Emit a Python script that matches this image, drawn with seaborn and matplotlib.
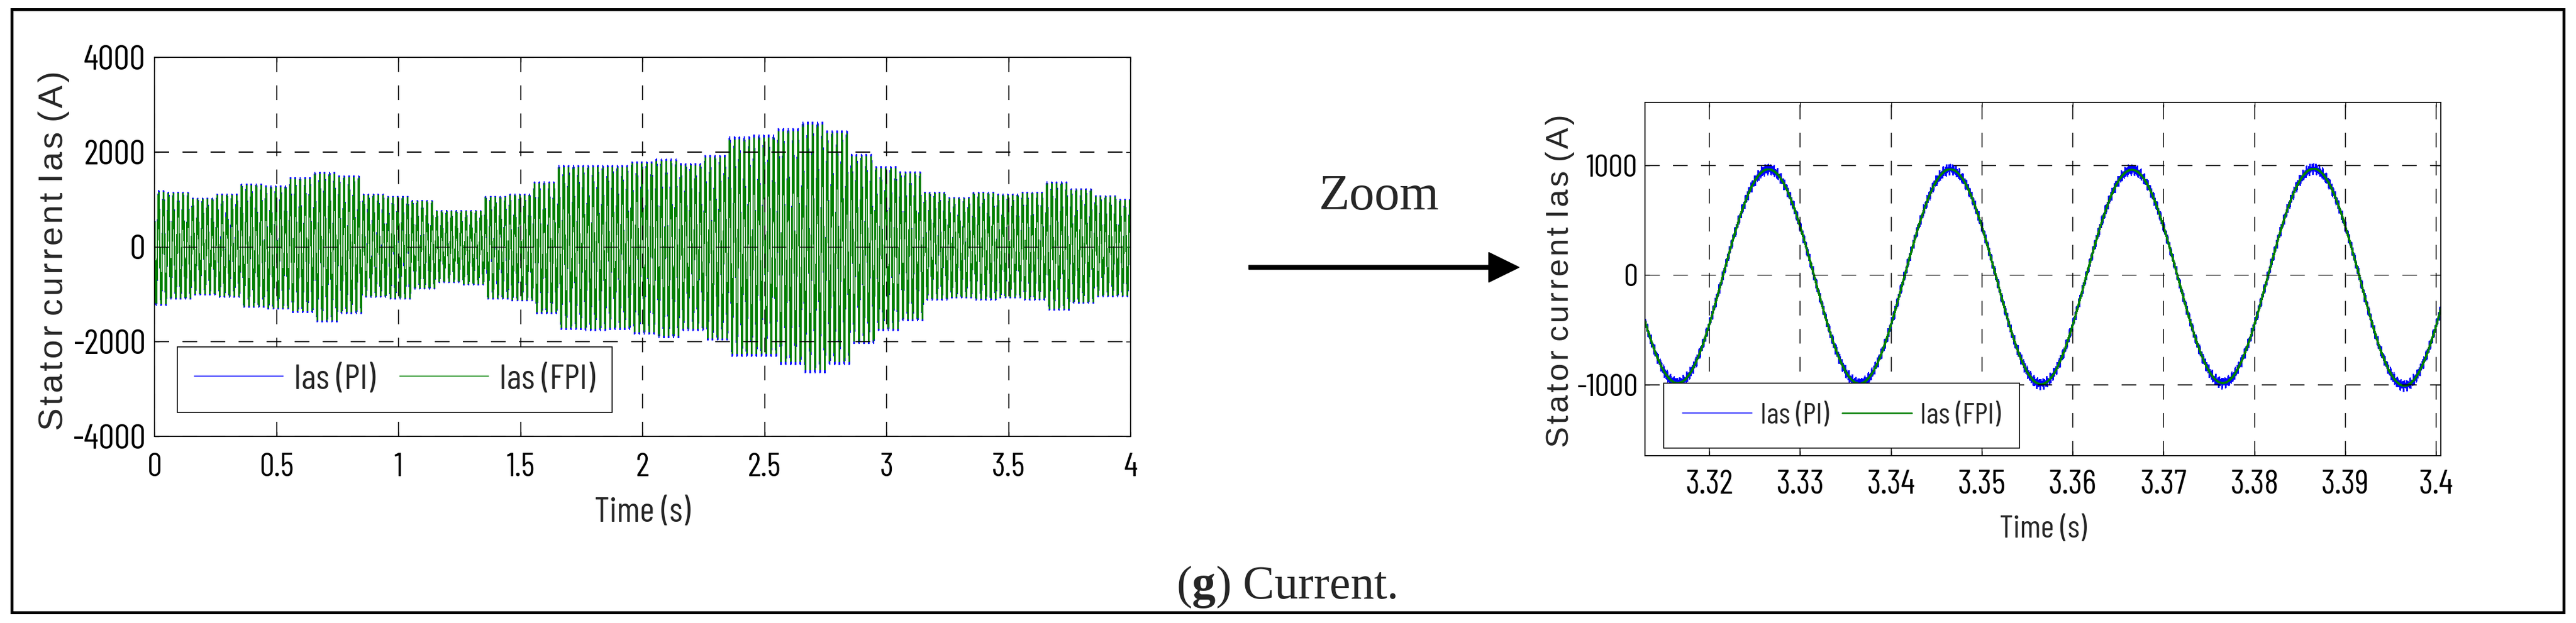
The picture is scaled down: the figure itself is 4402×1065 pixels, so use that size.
import os
import numpy as np
import matplotlib
matplotlib.use("Agg")
import matplotlib.pyplot as plt
from matplotlib import font_manager
from matplotlib.font_manager import FontProperties
from matplotlib.textpath import TextPath
from matplotlib.patches import Rectangle, FancyArrow
import seaborn as sns

# ---- overview record 0-4 s : current envelope read every 0.1 s ----
env_time = np.round(np.linspace(0.0, 4.0, 41), 1)
env_upper = [1150, 1120, 1000, 1080, 1290, 1250, 1420, 1530, 1460, 1080,
             1040, 950, 740, 740, 1040, 1080, 1330, 1670, 1670, 1670,
             1750, 1800, 1710, 1880, 2260, 2300, 2430, 2570, 2390, 1900,
             1650, 1545, 1120, 1010, 1120, 1080, 1120, 1330, 1190, 1050, 975]
env_lower = [1200, 1070, 990, 1030, 1240, 1280, 1350, 1540, 1370, 1030,
             1070, 860, 730, 780, 1070, 1110, 1370, 1700, 1720, 1700,
             1790, 1870, 1720, 1920, 2250, 2250, 2420, 2590, 2420, 1990,
             1720, 1520, 1090, 1050, 1090, 1050, 1090, 1300, 1160, 1020, 1020]
grid_freq = 50.0          # Hz
pi_overshoot = 1.025      # PI tips stick out above the FPI trace

# ---- zoomed window ----
zoom_t0, zoom_t1 = 3.3129, 3.4005
zoom_peak_time = 3.3265
zoom_first_zero = 3.3115
# amplitude of each half cycle (trough, peak, trough, ...)
zoom_half_amp = [985, 965, 990, 965, 995, 960, 985, 970, 1010]
ripple_amp = [32, 20]     # PI switching ripple
ripple_freq = [5100, 7900]

left_xticks = [0, 0.5, 1, 1.5, 2, 2.5, 3, 3.5, 4]
left_xticklabels = ["0", "0.5", "1", "1.5", "2", "2.5", "3", "3.5", "4"]
left_yticks = [-4000, -2000, 0, 2000, 4000]
right_xticks = [3.32, 3.33, 3.34, 3.35, 3.36, 3.37, 3.38, 3.39, 3.40]
right_xticklabels = ["3.32", "3.33", "3.34", "3.35", "3.36", "3.37", "3.38", "3.39", "3.4"]
right_yticks = [-1000, 0, 1000]
series = ["Ias (PI)", "Ias (FPI)"]
colors = ["#0000ff", "#008000"]

# ---- build the traces ----
t_all = np.arange(0.0, 4.0 + 1e-9, 0.0005)
k = np.rint(t_all / 0.1).astype(int)
carrier = np.cos(2 * np.pi * grid_freq * t_all + 0.9)
amp = np.where(carrier >= 0, np.take(env_upper, k), np.take(env_lower, k))
i_fpi = amp * carrier
i_pi = i_fpi * pi_overshoot

t_z = np.arange(zoom_t0, zoom_t1, 0.00002)
hk = np.clip(np.floor((t_z - zoom_first_zero) / 0.01).astype(int), 0, len(zoom_half_amp) - 1)
z_fpi = np.take(zoom_half_amp, hk) * np.cos(2 * np.pi * grid_freq * (t_z - zoom_peak_time))
z_pi = z_fpi.copy()
for a, f in zip(ripple_amp, ripple_freq):
    z_pi = z_pi + a * np.sin(2 * np.pi * f * t_z)

# ---- style ----
sns.set_theme(style="white")
plt.rcParams.update({
    "font.family": ["Liberation Sans", "DejaVu Sans"],
    "axes.unicode_minus": False,
    "lines.scale_dashes": False,
    "mathtext.fontset": "custom",
    "mathtext.rm": "Liberation Serif",
    "mathtext.bf": "Liberation Serif:bold",
    "axes.edgecolor": "black",
})


# MATLAB tick text is a narrow sans: take the available upright sans whose
# "4000" has the closest width/height ratio to the reference (~2.3)
def ink_box(fp):
    ext = TextPath((0, 0), "4000", prop=fp, size=10).get_extents()
    return ext.width, ext.height


skip = ("bold", "oblique", "italic", "light", "thin", "medium", "black",
        "heavy", "mono", "serif", "code", "math")
cands = [FontProperties(family="Liberation Sans")]
for fe in font_manager.fontManager.ttflist:
    b = os.path.basename(fe.fname).lower()
    if ("narrow" in b or "condensed" in b) and not any(w in b for w in skip):
        cands.append(FontProperties(fname=fe.fname))
best, best_err, best_box = cands[0], 99.0, ink_box(cands[0])
for c in cands:
    try:
        w_, h_ = ink_box(c)
    except Exception:
        continue
    err = abs(w_ / h_ - 2.3)
    if err < best_err:
        best, best_err, best_box = c, err, (w_, h_)
TICK_FP = best
RATIO = best_box[0] / best_box[1]
HPX_PER_PT = best_box[1] / 10 * 100 / 72     # digit height in px per pt
SHRINK = min(1.0, 2.3 / RATIO) ** 0.85


def npt(h_px):
    """point size that gives digits about h_px tall"""
    return h_px / HPX_PER_PT * SHRINK


def nfont(h_px):
    fp = TICK_FP.copy()
    fp.set_size(npt(h_px))
    return fp


def leg_kw(h_px, box_h, handle, textpad, colsp):
    fs = npt(h_px) / 0.72            # font size in px
    return dict(prop=nfont(h_px), borderaxespad=0,
                borderpad=max(0.2, (box_h - 1.2 * fs) / 2 / fs),
                handlelength=handle / fs, handletextpad=textpad / fs,
                columnspacing=colsp / fs, fancybox=False, edgecolor="black",
                framealpha=1, ncol=2, loc="lower left")


W, H = 4402, 1065
fig = plt.figure(figsize=(W / 100, H / 100), dpi=100)

# overlay in pixel coordinates for border, arrow and captions
ov = fig.add_axes([0, 0, 1, 1])
ov.set_xlim(0, W)
ov.set_ylim(H, 0)
ov.axis("off")
ov.add_patch(Rectangle((19.5, 15.5), 4361, 1031, fill=False, lw=3.6, edgecolor="black"))
ov.add_patch(FancyArrow(2134, 457, 462, 0, width=7, head_width=51, head_length=52,
                        length_includes_head=True, color="black"))
ov.text(2357, 358, "Zoom", ha="center", va="baseline", fontsize=62,
        family="Liberation Serif")
ov.text(2198, 1023, r"($\mathbf{g}$) Current.", ha="center", va="baseline",
        fontsize=58, family="Liberation Serif")

spaced = " ".join("\u200a".join(w) for w in "Stator current Ias (A)".split())
dash = (0, (18, 16.5))


def style_axes(ax, xt, xtl, yt, xh, yh, lw_spine, glw, gzero):
    ax.set_xticks(xt)
    ax.set_xticklabels(xtl, fontproperties=nfont(xh))
    ax.set_yticks(yt)
    ax.set_yticklabels([str(v) for v in yt], fontproperties=nfont(yh))
    for s in ax.spines.values():
        s.set_linewidth(lw_spine)
        s.set_color("black")
    for x in xt:
        ax.axvline(x, color="black", lw=glw, linestyle=dash, zorder=3)
    for y in yt:
        ax.axhline(y, color="black", lw=gzero if y == 0 else glw + 0.3,
                   linestyle=dash, zorder=3)
    ax.tick_params(direction="in", length=6, width=1, colors="black",
                   top=True, right=True, bottom=True, left=True)


# ---- left: whole record ----
ax1 = fig.add_axes([264 / W, 1 - 746 / H, 1668 / W, 648 / H])
sns.lineplot(x=t_all, y=i_pi, ax=ax1, color=colors[0], lw=1.1, label=series[0],
             estimator=None, sort=False, antialiased=False)
sns.lineplot(x=t_all, y=i_fpi, ax=ax1, color=colors[1], lw=1.1, label=series[1],
             estimator=None, sort=False, antialiased=False)
ax1.set_xlim(0, 4)
ax1.set_ylim(-4000, 4000)
style_axes(ax1, left_xticks, left_xticklabels, left_yticks, 41, 44, 1.3, 1.2, 0.9)
ax1.tick_params(axis="y", pad=11)
ax1.tick_params(axis="x", pad=20)
ax1.set_xlabel("Time (s)", fontproperties=nfont(44))
ax1.xaxis.set_label_coords(0.5, -0.16)
ax1.set_ylabel(spaced, fontsize=42, family=["Liberation Sans", "DejaVu Sans"])
ax1.yaxis.set_label_coords(-0.087, 0.49)
leg1 = ax1.legend(bbox_to_anchor=(0.0234, 0.063), **leg_kw(44, 130, 152, 18, 42))
leg1.get_frame().set_linewidth(1.2)
leg1.set_zorder(5)

# ---- right: zoomed window ----
ax2 = fig.add_axes([2811 / W, 1 - 778.5 / H, 1360 / W, 603.5 / H])
sns.lineplot(x=t_z, y=z_pi, ax=ax2, color=colors[0], lw=1.1, label=series[0],
             estimator=None, sort=False, antialiased=False)
sns.lineplot(x=t_z, y=z_fpi, ax=ax2, color=colors[1], lw=1.9, label=series[1],
             estimator=None, sort=False, antialiased=False)
ax2.set_xlim(zoom_t0, zoom_t1)
ax2.set_ylim(-1645, 1575)
style_axes(ax2, right_xticks, right_xticklabels, right_yticks, 42, 40, 1.3, 1.1, 0.9)
ax2.tick_params(axis="y", pad=9)
ax2.tick_params(axis="x", pad=18)
ax2.set_xlabel("Time (s)", fontproperties=nfont(40))
ax2.xaxis.set_label_coords(0.5, -0.17)
ax2.set_ylabel(spaced, fontsize=39, family=["Liberation Sans", "DejaVu Sans"])
ax2.yaxis.set_label_coords(-0.088, 0.495)
leg2 = ax2.legend(bbox_to_anchor=(0.0235, 0.0207), **leg_kw(37, 126, 119, 14, 22))
leg2.get_frame().set_linewidth(1.2)
leg2.set_zorder(5)

fig.savefig("out.png", dpi=100)
